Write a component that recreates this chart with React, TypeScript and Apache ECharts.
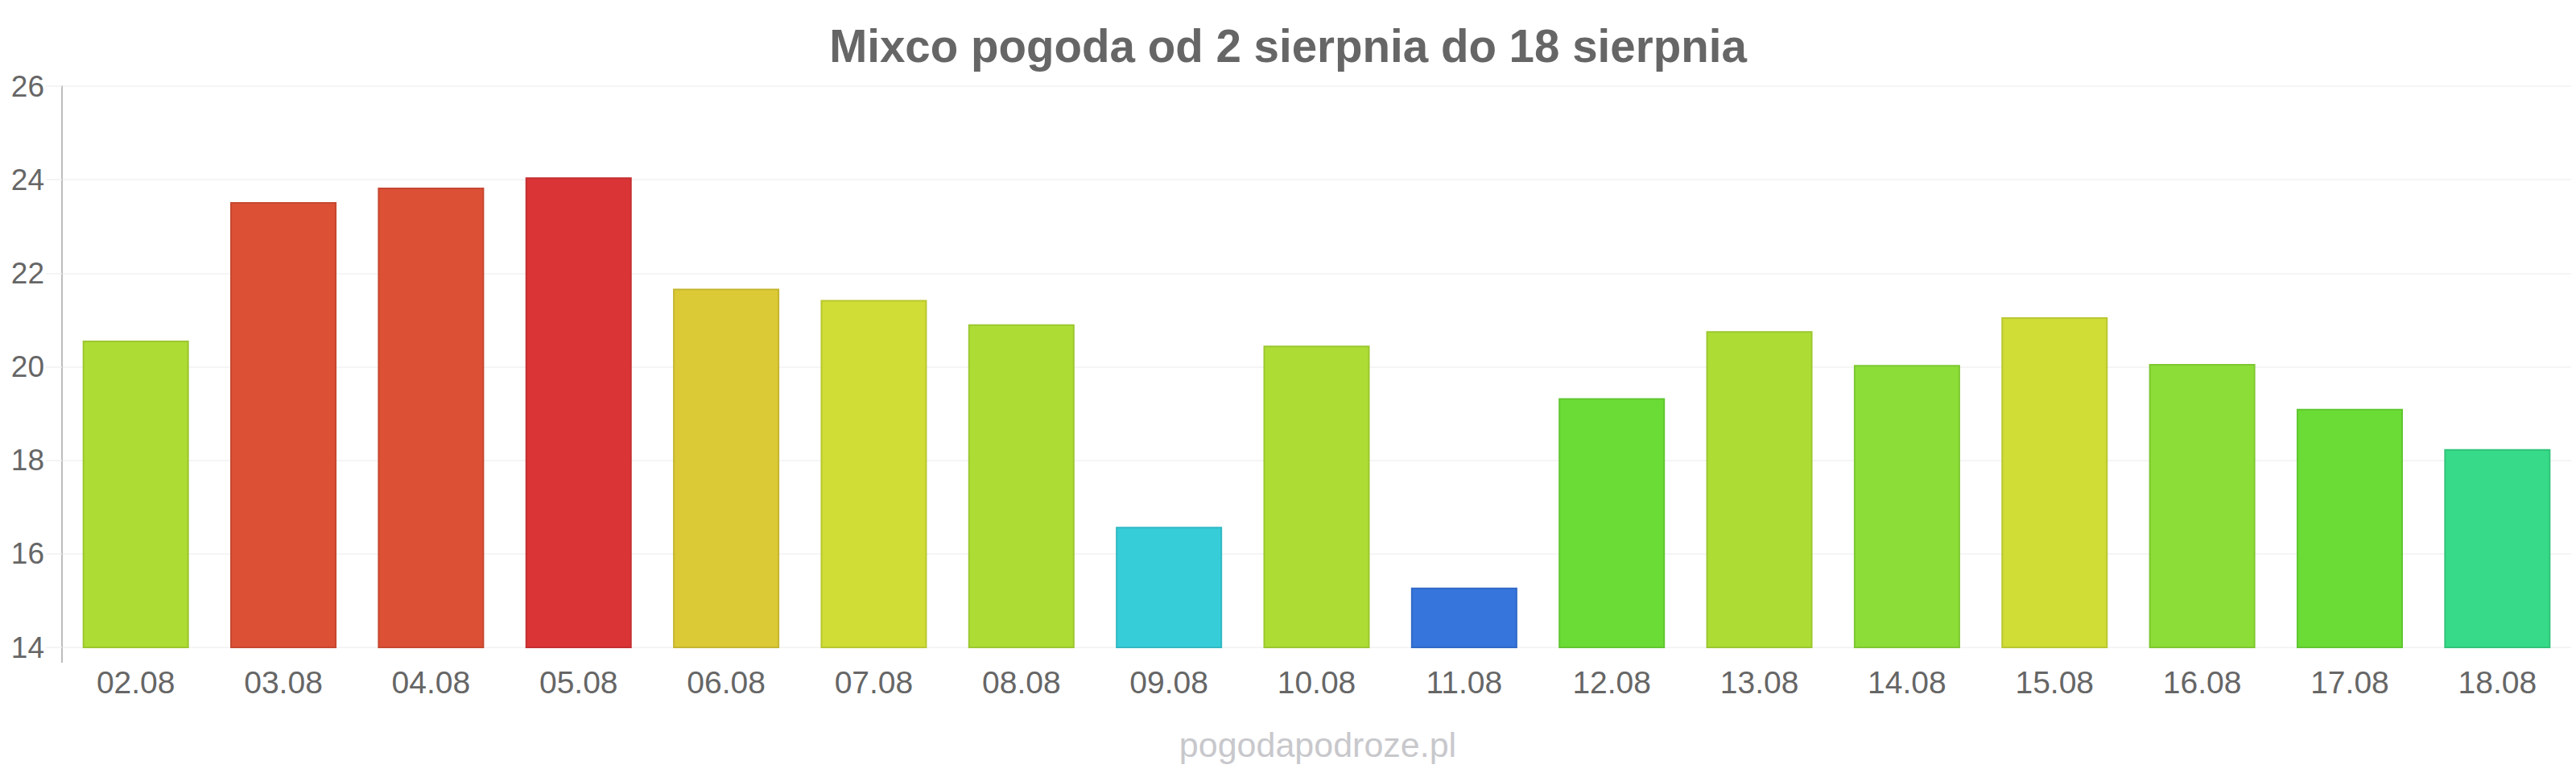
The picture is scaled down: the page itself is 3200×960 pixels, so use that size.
import React, { useEffect, useRef } from "react";
import * as echarts from "echarts";

const categories = ["02.08", "03.08", "04.08", "05.08", "06.08", "07.08", "08.08", "09.08", "10.08", "11.08", "12.08", "13.08", "14.08", "15.08", "16.08", "17.08", "18.08"];
const temperatures = [20.56, 23.52, 23.83, 24.05, 21.67, 21.43, 20.91, 16.58, 20.45, 15.28, 19.33, 20.76, 20.04, 21.06, 20.06, 19.1, 18.24];
const barColors = ["#addc34", "#dc5035", "#dc5035", "#da3436", "#dbca35", "#cfdd36", "#addd35", "#36cdd9", "#addd35", "#3575dc", "#6bdc35", "#addd35", "#8cdd37", "#cfdd36", "#8cdd37", "#6bdc35", "#36da88"];
const yTicks = { min: 14, max: 26, interval: 2 };
const titleText = "Mixco pogoda od 2 sierpnia do 18 sierpnia";
const watermarkText = "pogodapodroze.pl";

function darken(hex: string, f: number): string {
  const n = parseInt(hex.slice(1), 16);
  const r = Math.round(((n >> 16) & 255) * f);
  const g = Math.round(((n >> 8) & 255) * f);
  const b = Math.round((n & 255) * f);
  return "#" + ((1 << 24) | (r << 16) | (g << 8) | b).toString(16).slice(1);
}

const FONT = "'Liberation Sans', Arial, sans-serif";

export default function App() {
  const ref = useRef<HTMLDivElement>(null);
  useEffect(() => {
    if (!ref.current) return;
    const chart = echarts.init(ref.current, undefined, { renderer: "svg" });
    chart.setOption({
      animation: false,
      backgroundColor: "#ffffff",
      title: {
        text: titleText,
        left: "center",
        top: 24,
        textStyle: { fontFamily: FONT, fontSize: 56.5, fontWeight: "bold", color: "#666666" },
      },
      grid: { left: 77, right: 6, top: 107, bottom: 156, containLabel: false },
      xAxis: {
        type: "category",
        data: categories,
        axisLine: { show: false },
        axisTick: { show: false },
        axisLabel: { fontFamily: FONT, fontSize: 39, color: "#666666", margin: 24 },
        splitLine: { show: false },
      },
      yAxis: {
        type: "value",
        min: yTicks.min,
        max: yTicks.max,
        interval: yTicks.interval,
        axisLine: { show: true, lineStyle: { color: "#bdbdbd", width: 2 } },
        axisTick: { show: true, length: 20, lineStyle: { color: "#f0f0f0", width: 1.5 } },
        axisLabel: { fontFamily: FONT, fontSize: 37, color: "#666666", margin: 22 },
        splitLine: { show: true, lineStyle: { color: "#f2f2f2", width: 1.5 } },
      },
      series: [
        {
          type: "bar",
          barCategoryGap: "28%",
          data: temperatures.map((v, i) => ({
            value: v,
            itemStyle: { color: barColors[i], borderColor: darken(barColors[i], 0.9), borderWidth: 2 },
          })),
        },
      ],
      graphic: [
        {
          type: "line",
          shape: { x1: 77, y1: 804, x2: 77, y2: 823 },
          style: { stroke: "#bdbdbd", lineWidth: 2 },
        },
        {
          type: "text",
          x: 1637,
          y: 925,
          style: {
            text: watermarkText,
            fontFamily: FONT,
            fontSize: 43,
            fill: "#c8c8cc",
            align: "center",
            verticalAlign: "middle",
          },
        },
      ],
    });
    return () => chart.dispose();
  }, []);
  return <div ref={ref} style={{ position: "fixed", left: 0, top: 0, width: 3200, height: 960 }} />;
}
